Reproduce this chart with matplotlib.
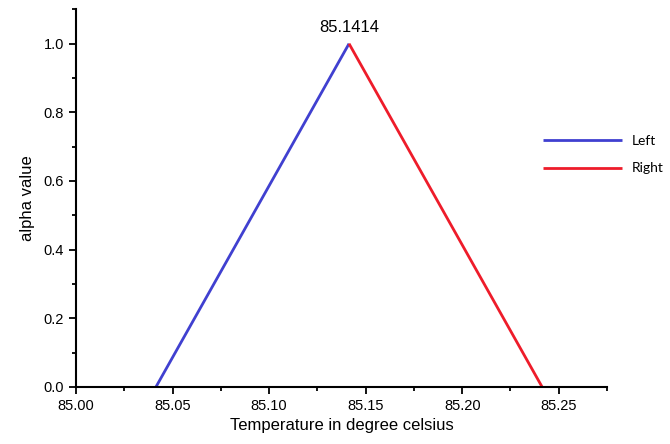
import matplotlib
matplotlib.use("Agg")
import matplotlib.pyplot as plt
from matplotlib.ticker import MultipleLocator

plt.rcParams['font.family'] = ['Liberation Sans', 'DejaVu Sans']

# alpha-cut triangle
left_x = [85.0414, 85.1414]
left_y = [0.0, 1.0]
right_x = [85.1414, 85.2414]
right_y = [1.0, 0.0]
peak = 85.1414

fig = plt.figure(figsize=(6.7, 4.44), dpi=100)
ax = fig.add_axes([0.1134, 0.1284, 0.7926, 0.8506])

ax.plot(left_x, left_y, color='#4040d0', lw=2.0, label='Left', solid_capstyle='butt')
ax.plot(right_x, right_y, color='#ee1c2a', lw=2.0, label='Right', solid_capstyle='butt')

ax.text(peak, 1.025, f'{peak:.4f}', ha='center', va='bottom', fontsize=12)

ax.set_xlim(85.0, 85.275)
ax.set_ylim(0, 1.1)
ax.xaxis.set_major_locator(MultipleLocator(0.05))
ax.xaxis.set_minor_locator(MultipleLocator(0.025))
ax.yaxis.set_major_locator(MultipleLocator(0.2))
ax.yaxis.set_minor_locator(MultipleLocator(0.1))
ax.xaxis.set_major_formatter(plt.FormatStrFormatter('%.2f'))
ax.yaxis.set_major_formatter(plt.FormatStrFormatter('%.1f'))

for s in ['top', 'right']:
    ax.spines[s].set_visible(False)
for s in ['left', 'bottom']:
    ax.spines[s].set_linewidth(1.5)
ax.tick_params(which='major', direction='out', length=5, width=1.3, labelsize=10.5, colors='black')
ax.tick_params(which='minor', direction='out', length=3, width=1.3)

ax.set_xlabel('Temperature in degree celsius', fontsize=12, labelpad=4)
ax.set_ylabel('alpha value', fontsize=12, labelpad=6)

ax.legend(loc='center left', bbox_to_anchor=(0.855, 0.615), frameon=False,
          handlelength=5.7, handletextpad=0.7, labelspacing=1.1,
          prop={'family': ['Lato', 'DejaVu Sans'], 'size': 10})

fig.savefig('out.png', dpi=100)
